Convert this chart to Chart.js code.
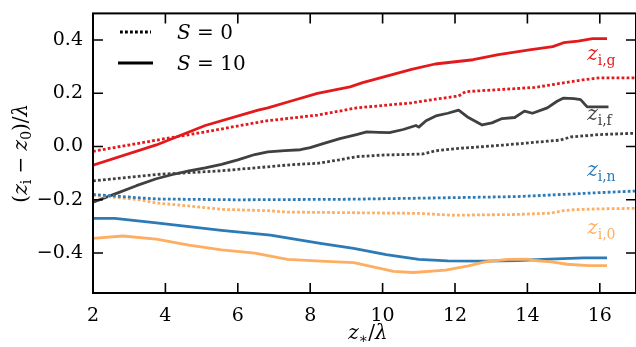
<!DOCTYPE html>
<html>
<head>
<meta charset="utf-8">
<script src="https://cdn.jsdelivr.net/npm/chart.js"></script>
<style>
  html, body { margin: 0; padding: 0; background: #fff; }
</style>
</head>
<body>
<canvas id="zChart" width="636" height="347"></canvas>
<script>
// tick values
const xTicks = [2, 4, 6, 8, 10, 12, 14, 16];
const yTicks = [0.4, 0.2, 0.0, -0.2, -0.4];

// z_i,g  (red)
const gX10 = [2, 3.75, 5.1, 6.56, 6.83, 7.5, 8.2, 9.1, 9.45, 10.8, 11.45, 12.5, 13.2, 14.1, 14.7, 15.0, 15.4, 15.8, 16.2];
const gY10 = [-0.07, 0.006, 0.079, 0.137, 0.145, 0.172, 0.2, 0.224, 0.24, 0.29, 0.31, 0.326, 0.345, 0.364, 0.375, 0.39, 0.396, 0.405, 0.405];
const gX0 = [2, 3.75, 5.1, 6.56, 6.83, 8.2, 9.28, 10.8, 11.47, 12.0, 12.1, 12.29, 14.2, 15.56, 16.0, 17];
const gY0 = [-0.018, 0.024, 0.055, 0.091, 0.097, 0.118, 0.145, 0.164, 0.178, 0.188, 0.19, 0.206, 0.222, 0.251, 0.258, 0.258];

// z_i,f  (dark grey)
const fX10 = [2, 2.65, 3.2, 3.75, 4.2, 4.65, 5.1, 5.55, 6.0, 6.47, 6.83, 7.3, 7.73, 8.0, 8.38, 8.82, 9.28, 9.56, 9.9, 10.19, 10.57, 10.92, 11.0, 11.2, 11.47, 11.8, 12.1, 12.37, 12.75, 13.02, 13.3, 13.65, 13.92, 14.14, 14.55, 14.82, 15.0, 15.29, 15.47, 15.65, 16.24];
const fY10 = [-0.209, -0.176, -0.147, -0.121, -0.105, -0.091, -0.08, -0.067, -0.05, -0.03, -0.02, -0.015, -0.012, -0.004, 0.012, 0.03, 0.045, 0.055, 0.053, 0.052, 0.064, 0.079, 0.073, 0.097, 0.115, 0.125, 0.137, 0.109, 0.081, 0.089, 0.105, 0.109, 0.133, 0.125, 0.145, 0.17, 0.182, 0.18, 0.176, 0.149, 0.149];
const fX0 = [2, 3.75, 5.55, 6.83, 7.5, 8.2, 8.8, 9.28, 10, 11.1, 11.47, 12, 13.3, 14.55, 14.9, 15.2, 16, 17];
const fY0 = [-0.129, -0.105, -0.091, -0.076, -0.068, -0.063, -0.05, -0.038, -0.032, -0.028, -0.016, -0.008, 0.005, 0.02, 0.024, 0.036, 0.045, 0.05];

// z_i,n  (blue)
const nX10 = [2, 2.6, 3.75, 4.65, 5.55, 6.9, 8.28, 9.2, 10.1, 11.0, 11.8, 12.83, 13.73, 14.6, 15.56, 16.2];
const nY10 = [-0.27, -0.27, -0.287, -0.301, -0.315, -0.333, -0.364, -0.382, -0.406, -0.424, -0.429, -0.43, -0.428, -0.423, -0.418, -0.418];
const nX0 = [2, 3.75, 6, 9, 11, 13.73, 16, 17];
const nY0 = [-0.18, -0.197, -0.2, -0.198, -0.194, -0.188, -0.173, -0.167];

// z_i,0  (orange)
const oX10 = [2, 2.82, 3.75, 4.65, 5.55, 6.47, 7.37, 8.28, 9.2, 9.83, 10.3, 10.84, 11.74, 12.37, 12.83, 13.46, 14.0, 14.2, 14.66, 15.1, 15.7, 16.2];
const oY10 = [-0.345, -0.336, -0.348, -0.37, -0.388, -0.4, -0.424, -0.43, -0.436, -0.455, -0.469, -0.473, -0.464, -0.448, -0.433, -0.424, -0.423, -0.428, -0.433, -0.442, -0.447, -0.447];
const oX0 = [2, 3.3, 3.75, 4.65, 5.55, 6.83, 7.37, 11.0, 11.93, 13.73, 14.66, 15.0, 15.3, 16.0, 17];
const oY0 = [-0.183, -0.2, -0.212, -0.223, -0.236, -0.241, -0.246, -0.251, -0.258, -0.255, -0.25, -0.241, -0.237, -0.234, -0.232];

const RED = "#e31a1c";
const GREY = "#404040";
const BLUE = "#2c7bb6";
const ORANGE = "#fdae61";
const SERIF = "DejaVu Serif";

const toPts = (xs, ys) => xs.map((x, i) => ({ x: x, y: ys[i] }));

function line(label, xs, ys, color, dotted) {
  return {
    label: label,
    data: toPts(xs, ys),
    borderColor: color,
    borderWidth: 2.8,
    borderDash: dotted ? [2.8, 2.2] : [],
    borderCapStyle: "butt",
    borderJoinStyle: "round",
    pointRadius: 0,
    fill: false,
    tension: 0,
  };
}

// draw a run of text pieces (italic / subscript) starting at x
function richWidth(ctx, parts) {
  let w = 0;
  parts.forEach(p => { ctx.font = p.f; w += ctx.measureText(p.t).width; });
  return w;
}
function drawRich(ctx, parts, x, y, align) {
  let cx = align === "center" ? x - richWidth(ctx, parts) / 2 : x;
  ctx.textBaseline = "alphabetic";
  ctx.textAlign = "left";
  parts.forEach(p => {
    ctx.font = p.f;
    ctx.fillText(p.t, cx, y + (p.dy || 0));
    cx += ctx.measureText(p.t).width;
  });
}

const IT = "italic 20px '" + SERIF + "'";
const RM = "20px '" + SERIF + "'";
const SUB = "14px '" + SERIF + "'";

const decor = {
  id: "decor",
  afterDraw(chart) {
    const { ctx, chartArea: a, scales: { x, y } } = chart;
    ctx.save();

    // frame + inward ticks
    ctx.strokeStyle = "#000";
    ctx.lineWidth = 2;
    ctx.strokeRect(a.left, a.top, a.right - a.left, a.bottom - a.top);
    ctx.lineWidth = 1.6;
    ctx.beginPath();
    xTicks.forEach(v => {
      const px = x.getPixelForValue(v);
      ctx.moveTo(px, a.bottom); ctx.lineTo(px, a.bottom - 10);
      ctx.moveTo(px, a.top); ctx.lineTo(px, a.top + 10);
    });
    yTicks.forEach(v => {
      const py = y.getPixelForValue(v);
      ctx.moveTo(a.left, py); ctx.lineTo(a.left + 10, py);
      ctx.moveTo(a.right, py); ctx.lineTo(a.right - 10, py);
    });
    ctx.stroke();

    // legend
    ctx.lineWidth = 2.8;
    ctx.strokeStyle = "#000";
    ctx.setLineDash([2.8, 2.2]);
    ctx.beginPath(); ctx.moveTo(a.left + 27, 32); ctx.lineTo(a.left + 58, 32); ctx.stroke();
    ctx.setLineDash([]);
    ctx.beginPath(); ctx.moveTo(a.left + 25, 63); ctx.lineTo(a.left + 60, 63); ctx.stroke();
    ctx.fillStyle = "#000";
    drawRich(ctx, [{ t: "S", f: IT }, { t: " = 0", f: RM }], a.left + 84, 39, "left");
    drawRich(ctx, [{ t: "S", f: IT }, { t: " = 10", f: RM }], a.left + 84, 70, "left");

    // curve labels
    const tag = (sub, color, yv) => {
      ctx.fillStyle = color;
      drawRich(ctx, [{ t: "z", f: IT }, { t: sub, f: SUB, dy: 5 }], x.getPixelForValue(15.65), y.getPixelForValue(yv), "left");
    };
    tag("i,g", RED, 0.325);
    tag("i,f", GREY, 0.1);
    tag("i,n", BLUE, -0.11);
    tag("i,0", ORANGE, -0.33);

    // axis titles
    ctx.fillStyle = "#000";
    drawRich(ctx, [{ t: "z", f: IT }, { t: "\u2217", f: SUB, dy: 4 }, { t: "/", f: RM }, { t: "\u03bb", f: IT }],
      368, 339, "center");
    ctx.translate(27, (a.top + a.bottom) / 2);
    ctx.rotate(-Math.PI / 2);
    drawRich(ctx, [
      { t: "(", f: RM }, { t: "z", f: IT }, { t: "i", f: SUB, dy: 4 },
      { t: " \u2212 ", f: RM }, { t: "z", f: IT }, { t: "0", f: SUB, dy: 4 },
      { t: ")/", f: RM }, { t: "\u03bb", f: IT }
    ], 0, 0, "center");

    ctx.restore();
  }
};

new Chart(document.getElementById("zChart"), {
  type: "line",
  data: {
    datasets: [
      line("z_i,g S=0", gX0, gY0, RED, true),
      line("z_i,f S=0", fX0, fY0, GREY, true),
      line("z_i,n S=0", nX0, nY0, BLUE, true),
      line("z_i,0 S=0", oX0, oY0, ORANGE, true),
      line("z_i,0 S=10", oX10, oY10, ORANGE, false),
      line("z_i,n S=10", nX10, nY10, BLUE, false),
      line("z_i,f S=10", fX10, fY10, GREY, false),
      line("z_i,g S=10", gX10, gY10, RED, false),
    ],
  },
  options: {
    responsive: false,
    animation: false,
    layout: { padding: { left: 0, right: -7, top: 4, bottom: 0 } },
    plugins: {
      legend: { display: false },
      tooltip: { enabled: false },
    },
    scales: {
      x: {
        type: "linear",
        min: 2,
        max: 17,
        grid: { display: false },
        border: { display: false },
        afterBuildTicks: s => { s.ticks = xTicks.map(v => ({ value: v })); },
        afterFit: s => { s.height = 54; },
        ticks: {
          padding: 4,
          maxRotation: 0,
          color: "#000",
          font: { family: SERIF, size: 19 },
          callback: v => String(v),
        },
      },
      y: {
        type: "linear",
        min: -0.55,
        max: 0.5,
        grid: { display: false },
        border: { display: false },
        afterBuildTicks: s => { s.ticks = yTicks.map(v => ({ value: v })); },
        afterFit: s => { s.width = 93; },
        ticks: {
          padding: 2,
          color: "#000",
          font: { family: SERIF, size: 19 },
          callback: v => (v < 0 ? "\u2212" : "") + Math.abs(v).toFixed(1),
        },
      },
    },
  },
  plugins: [decor],
});
</script>
</body>
</html>
